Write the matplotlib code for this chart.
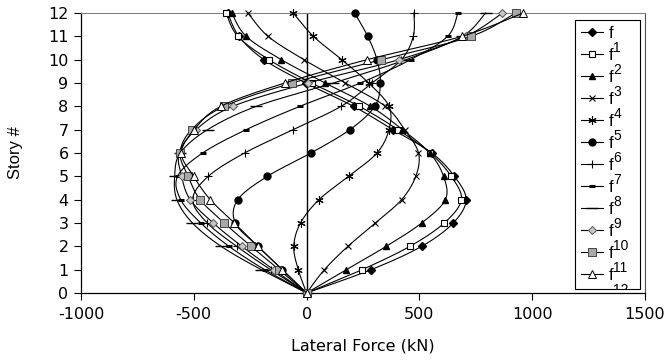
import numpy as np
import matplotlib
matplotlib.use('Agg')
import matplotlib.pyplot as plt
from matplotlib.transforms import IdentityTransform

plt.rcParams['font.family'] = ['DejaVu Sans']
plt.rcParams['axes.unicode_minus'] = False

stories = list(range(13))
f1 = [0, 286, 510, 650, 707, 655, 555, 383, 208, -4, -189, -300, -350]
f2 = [0, 246, 458, 610, 686, 641, 548, 405, 234, 22, -167, -305, -357]
f3 = [0, 176, 353, 510, 615, 607, 546, 425, 283, 82, -112, -268, -332]
f4 = [0, 79, 183, 305, 421, 484, 496, 435, 349, 171, -12, -171, -260]
f5 = [0, -37, -57, -27, 55, 186, 312, 365, 365, 275, 156, 30, -59]
f6 = [0, -108, -216, -316, -305, -174, 19, 192, 302, 327, 312, 271, 213]
f7 = [0, -160, -310, -440, -505, -436, -275, -60, 153, 290, 420, 473, 476]
f8 = [0, -186, -344, -469, -558, -572, -461, -268, -30, 238, 461, 625, 670]
f9 = [0, -201, -379, -506, -575, -585, -560, -439, -223, 119, 440, 690, 793]
f10 = [0, -146, -287, -414, -516, -554, -565, -490, -327, 7, 409, 705, 868]
f11 = [0, -122, -246, -365, -472, -525, -561, -510, -365, -64, 332, 729, 926]
f12 = [0, -107, -216, -320, -427, -501, -555, -498, -380, -97, 268, 688, 960]
series = [f1, f2, f3, f4, f5, f6, f7, f8, f9, f10, f11, f12]
numbers = [str(i) for i in range(1, 13)]

xticks = [-1000, -500, 0, 500, 1000, 1500]
yticks = list(range(13))

styles = [
    dict(marker='D', ms=4, mfc='black', mec='black'),
    dict(marker='s', ms=5, mfc='white', mec='black', mew=0.8),
    dict(marker='^', ms=5, mfc='black', mec='black'),
    dict(marker='x', ms=5, mec='black', mew=0.8),
    dict(marker=(6, 2, 0), ms=6, mec='black', mew=0.8),
    dict(marker='o', ms=5, mfc='black', mec='black'),
    dict(marker='+', ms=6, mec='black', mew=0.8),
    dict(marker='_', ms=5, mec='black', mew=2.2),
    dict(marker='_', ms=8, mec='black', mew=1.0),
    dict(marker='D', ms=4.5, mfc='#c8c8c8', mec='#555555', mew=0.7),
    dict(marker='s', ms=5.5, mfc='#a8a8a8', mec='#444444', mew=0.7),
    dict(marker='^', ms=5.5, mfc='white', mec='black', mew=0.7),
]

W, H = 665, 362
fig = plt.figure(figsize=(W / 100, H / 100), dpi=100)
ax_l, ax_r, ax_t, ax_b = 81, 645, 13, 293
ax = fig.add_axes([ax_l / W, 1 - ax_b / H, (ax_r - ax_l) / W, (ax_b - ax_t) / H])
ax.set_xlim(-1000, 1500)
ax.set_ylim(0, 12)

sx = (ax_r - ax_l) / 2500.0
sy = (ax_b - ax_t) / 12.0
NSEG = 12


def smooth(xs, ys):
    P = np.column_stack([np.asarray(xs, float) * sx, np.asarray(ys, float) * sy])
    ext = np.vstack([P[0], P, P[-1]])
    pts = []
    t = np.linspace(0, 1, NSEG, endpoint=False)[:, None]
    for i in range(len(P) - 1):
        p0, p1, p2, p3 = ext[i], ext[i + 1], ext[i + 2], ext[i + 3]
        c = 0.5 * (2 * p1 + (-p0 + p2) * t + (2 * p0 - 5 * p1 + 4 * p2 - p3) * t ** 2
                   + (-p0 + 3 * p1 - 3 * p2 + p3) * t ** 3)
        pts.append(c)
    pts.append(P[-1:])
    pts = np.vstack(pts)
    return pts[:, 0] / sx, pts[:, 1] / sy


ax.plot([0, 0], [0, 12], color='black', lw=1.0, zorder=1)

handles = []
mk = list(range(0, 12 * NSEG + 1, NSEG))
for s, st in zip(series, styles):
    xs, ys = smooth(s, stories)
    ln, = ax.plot(xs, ys, color='black', lw=0.8, markevery=mk, clip_on=False, zorder=3, **st)
    handles.append(ln)

ax.set_xticks(xticks)
ax.set_yticks(yticks)
ax.tick_params(axis='both', direction='out', length=5, width=0.8, labelsize=11.5, colors='black')
ax.tick_params(axis='x', pad=5)
ax.tick_params(axis='y', pad=4)
for side in ['left', 'bottom']:
    ax.spines[side].set_color('black')
    ax.spines[side].set_linewidth(0.9)
ax.spines['top'].set_color('#808080')
ax.spines['top'].set_linewidth(0.8)
ax.spines['right'].set_color('#505050')
ax.spines['right'].set_linewidth(0.8)

ax.set_xlabel('Lateral Force (kN)', fontsize=11.5, labelpad=12)
ax.set_ylabel('Story #', fontsize=12, labelpad=18, family=['Liberation Sans'])

leg_l, leg_r, leg_t = 575, 640, 20
leg = ax.legend(handles, ['f'] * 12, loc='upper left',
                bbox_to_anchor=(leg_l / W, 1 - leg_t / H, (leg_r - leg_l) / W, 0.0),
                bbox_transform=fig.transFigure, mode='expand',
                frameon=True, fancybox=False, edgecolor='black', framealpha=1,
                prop={'family': 'Liberation Sans', 'size': 12},
                handlelength=1.3, handletextpad=0.35, labelspacing=0.42,
                borderpad=0.35, borderaxespad=0, numpoints=1)
leg.get_frame().set_linewidth(0.8)

fig.canvas.draw()
renderer = fig.canvas.get_renderer()
frame_bb = leg.get_frame().get_window_extent(renderer)
for txt, num in zip(leg.get_texts(), numbers):
    bb = txt.get_window_extent(renderer)
    base = bb.y0 + 4
    t = fig.text(bb.x1 + 0.5, base - 15, num, fontsize=10, ha='left', va='baseline',
                 family='Liberation Sans', transform=IdentityTransform())
    t.set_clip_box(frame_bb)
    t.set_clip_on(True)

fig.savefig('out.png', dpi=100)
